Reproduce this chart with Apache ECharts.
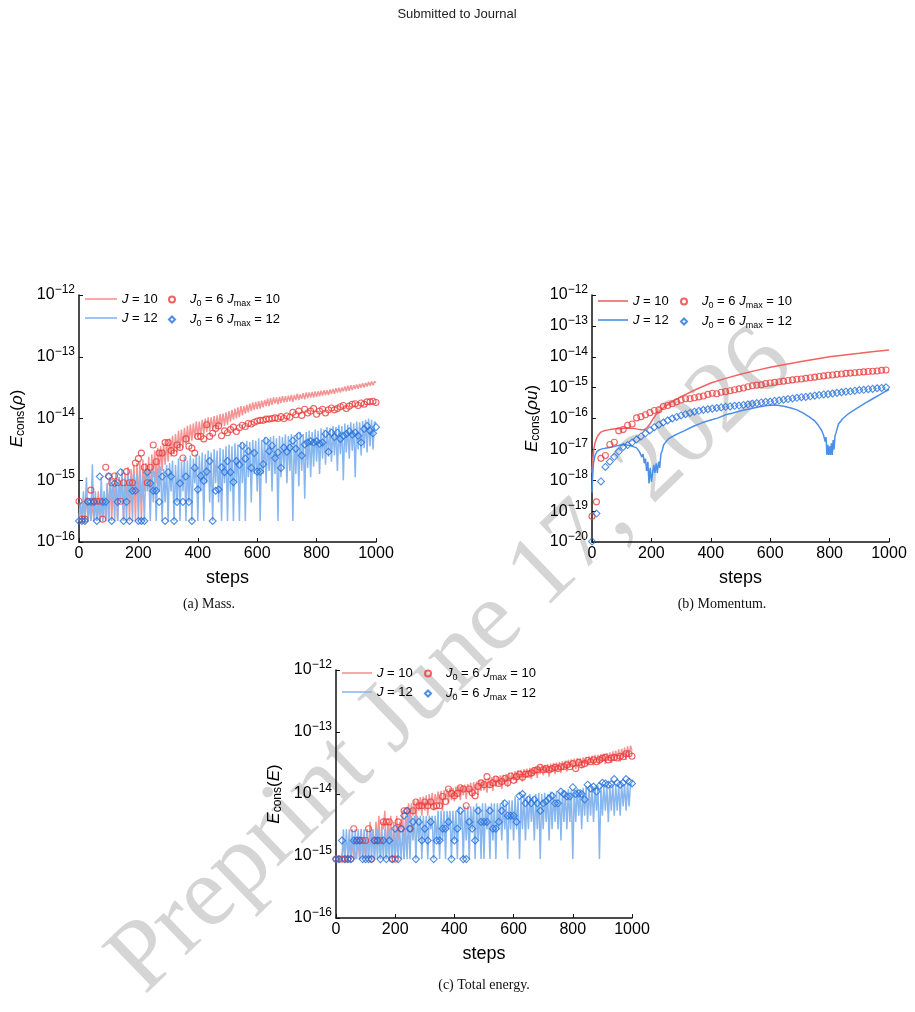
<!DOCTYPE html>
<html>
<head>
<meta charset="utf-8">
<script src="https://cdn.jsdelivr.net/npm/echarts@6/dist/echarts.min.js"></script>
<style>
  html, body { margin: 0; padding: 0; background: #fff; }
  #main { width: 915px; height: 1012px; }
</style>
</head>
<body>
<div id="main"></div>
<script>
// all values are log10 of the conservation error

// x positions (steps)
var STEP_LINE = [];
for (var s = 0; s <= 1000; s += 5) STEP_LINE.push(s);
var STEP_MARK = [];
for (var s = 0; s <= 1000; s += 10) STEP_MARK.push(s);
var STEP_MARK_B = [];
for (var s = 0; s < 1000; s += 15) STEP_MARK_B.push(s);

// (a) mass
var A_J10 = [
-15.66,-15.36,-15.66,-15.36,-15.66,-15.18,-15.66,-15.36,-15.66,-15.36,
-15.66,-15.36,-15.66,-15.18,-15.66,-15.36,-15.66,-15.18,-15.66,-15.05,
-15.66,-14.95,-15.66,-15.05,-15.36,-14.88,-15.66,-14.95,-15.36,-14.82,
-15.66,-14.88,-15.36,-14.78,-15.66,-14.82,-15.18,-14.75,-15.66,-14.72,
-15.36,-14.70,-15.66,-14.66,-15.18,-14.72,-15.05,-14.62,-15.36,-14.58,
-14.95,-14.52,-15.05,-14.48,-14.90,-14.45,-14.85,-14.40,-14.75,-14.36,
-14.70,-14.32,-14.62,-14.28,-14.58,-14.25,-14.55,-14.20,-14.50,-14.18,
-14.48,-14.15,-14.42,-14.12,-14.40,-14.10,-14.36,-14.08,-14.32,-14.05,
-14.30,-14.05,-14.28,-14.02,-14.25,-14.00,-14.22,-13.98,-14.20,-13.98,
-14.18,-13.96,-14.18,-13.95,-14.15,-13.93,-14.12,-13.92,-14.12,-13.90,
-14.10,-13.88,-14.05,-13.86,-14.02,-13.84,-14.00,-13.82,-13.98,-13.80,
-13.95,-13.80,-13.92,-13.78,-13.90,-13.76,-13.88,-13.74,-13.86,-13.73,
-13.85,-13.72,-13.84,-13.71,-13.82,-13.70,-13.80,-13.68,-13.80,-13.67,
-13.78,-13.66,-13.76,-13.66,-13.77,-13.65,-13.75,-13.64,-13.74,-13.64,
-13.73,-13.63,-13.72,-13.62,-13.73,-13.62,-13.70,-13.60,-13.70,-13.61,
-13.68,-13.59,-13.69,-13.58,-13.67,-13.58,-13.66,-13.57,-13.66,-13.56,
-13.65,-13.56,-13.64,-13.55,-13.63,-13.54,-13.62,-13.54,-13.62,-13.53,
-13.60,-13.52,-13.60,-13.51,-13.58,-13.50,-13.58,-13.50,-13.56,-13.48,
-13.56,-13.47,-13.55,-13.46,-13.54,-13.46,-13.52,-13.45,-13.52,-13.44,
-13.50,-13.43,-13.50,-13.42,-13.48,-13.41,-13.47,-13.40,-13.46,-13.40,
-13.42];
var A_J12 = [
-15.66,-15.36,-15.66,-15.18,-15.66,-14.95,-15.66,-15.36,-15.66,-14.74,
-15.66,-15.18,-15.66,-15.36,-15.66,-14.95,-15.66,-15.18,-15.66,-15.05,
-15.66,-14.95,-15.36,-15.05,-15.66,-14.88,-15.66,-14.95,-15.36,-14.88,
-15.66,-14.95,-15.66,-14.85,-15.36,-14.95,-15.66,-14.88,-15.18,-14.90,
-15.66,-14.85,-15.36,-14.95,-15.66,-14.82,-15.18,-14.90,-15.66,-14.80,
-15.36,-14.85,-15.66,-14.80,-15.18,-14.78,-15.66,-14.82,-15.36,-14.75,
-15.66,-14.72,-15.18,-14.68,-15.66,-14.75,-15.36,-14.65,-15.66,-14.70,
-15.18,-14.62,-15.66,-14.68,-15.36,-14.60,-15.66,-14.65,-15.05,-14.58,
-15.66,-14.60,-15.18,-14.55,-15.66,-14.58,-15.05,-14.52,-15.36,-14.55,
-15.66,-14.50,-15.05,-14.52,-15.36,-14.48,-15.66,-14.50,-15.05,-14.45,
-15.66,-14.42,-15.18,-14.45,-15.66,-14.40,-15.05,-14.42,-15.66,-14.38,
-15.05,-14.40,-15.66,-14.36,-14.95,-14.38,-15.36,-14.35,-14.90,-14.36,
-15.18,-14.32,-15.66,-14.35,-14.90,-14.30,-15.05,-14.33,-14.85,-14.30,
-15.18,-14.28,-14.90,-14.32,-15.66,-14.28,-14.95,-14.30,-14.80,-14.26,
-15.05,-14.28,-14.85,-14.25,-15.66,-14.27,-14.90,-14.24,-15.10,-14.22,
-14.85,-14.25,-15.30,-14.22,-14.80,-14.20,-14.95,-14.22,-14.78,-14.18,
-14.70,-14.20,-14.90,-14.16,-14.65,-14.18,-14.75,-14.14,-14.62,-14.15,
-14.70,-14.12,-14.60,-14.14,-14.85,-14.10,-14.58,-14.12,-15.00,-14.08,
-14.55,-14.10,-14.65,-14.06,-14.52,-14.08,-14.95,-14.05,-14.50,-14.06,
-14.60,-14.04,-14.48,-14.02,-14.55,-14.00,-14.45,-14.02,-14.50,-14.05,
-14.08];
var A_M10 = [
-15.34,-15.63,-15.63,-15.34,-15.16,-15.34,-15.34,-15.34,-15.63,-14.79,
-14.93,-15.04,-14.93,-15.04,-15.34,-15.04,-14.86,-15.04,-15.04,-14.72,
-14.65,-14.56,-14.79,-15.04,-14.79,-14.43,-14.70,-14.56,-14.56,-14.39,
-14.39,-14.52,-14.56,-14.43,-14.47,-14.64,-14.33,-14.45,-14.48,-14.56,
-14.29,-14.29,-14.33,-14.10,-14.29,-14.24,-14.16,-14.12,-14.28,-14.20,
-14.23,-14.18,-14.14,-14.21,-14.15,-14.11,-14.13,-14.08,-14.09,-14.06,
-14.04,-14.03,-14.03,-14.01,-14.01,-14.00,-13.99,-14.00,-13.97,-14.00,
-13.96,-13.98,-13.90,-13.94,-13.88,-13.95,-13.85,-13.91,-13.88,-13.84,
-13.93,-13.88,-13.85,-13.91,-13.86,-13.83,-13.86,-13.84,-13.81,-13.79,
-13.84,-13.80,-13.77,-13.76,-13.79,-13.75,-13.77,-13.73,-13.73,-13.72,
-13.74];
var A_M12 = [
-15.66,-15.66,-15.66,-15.35,-15.35,-15.35,-15.66,-14.94,-15.35,-15.35,
-14.94,-15.66,-15.05,-15.35,-14.87,-15.66,-15.35,-15.66,-15.17,-15.17,
-15.66,-15.66,-15.66,-14.87,-15.05,-15.17,-15.17,-15.35,-14.94,-15.66,
-14.87,-14.94,-15.66,-15.35,-15.05,-15.35,-14.94,-15.35,-15.66,-14.80,
-15.15,-14.93,-15.01,-14.86,-14.69,-15.66,-15.17,-15.15,-14.79,-14.87,
-14.69,-14.87,-15.03,-14.69,-14.75,-14.44,-14.65,-14.53,-14.80,-14.56,
-14.86,-14.86,-14.74,-14.36,-14.53,-14.44,-14.64,-14.55,-14.80,-14.47,
-14.54,-14.47,-14.36,-14.49,-14.28,-14.60,-14.42,-14.39,-14.37,-14.39,
-14.37,-14.41,-14.39,-14.25,-14.54,-14.23,-14.30,-14.23,-14.33,-14.28,
-14.25,-14.21,-14.26,-14.23,-14.28,-14.39,-14.17,-14.12,-14.20,-14.24,
-14.14];

// (b) momentum
var B_J10_STEP = [0,3,6,10,15,20,30,40,60,80,100,120,140,160,175,185,195,205,215,230,250,275,300,350,400,450,500,550,600,650,700,750,800,850,900,950,1000];
var B_J10 = [-17.76,-17.30,-17.00,-16.80,-16.65,-16.55,-16.44,-16.40,-16.36,-16.33,-16.32,-16.31,-16.32,-16.36,-16.37,-16.30,-16.18,-16.02,-15.88,-15.74,-15.58,-15.43,-15.29,-15.06,-14.85,-14.70,-14.57,-14.45,-14.34,-14.25,-14.16,-14.08,-14.00,-13.94,-13.89,-13.83,-13.78];
var B_J12_STEP = [0,2,5,10,17,28,45,67,90,110,130,150,160,168,172,176,180,184,188,192,196,200,204,208,212,216,220,224,228,232,236,241,250,260,275,290,310,340,370,400,425,450,475,500,530,560,590,620,646,670,690,710,730,750,762,773,780,785,788,791,794,797,800,803,806,809,812,815,818,822,830,845,864,890,920,945,965,985,1000];
var B_J12 = [-18.40,-17.90,-17.45,-17.20,-17.06,-17.00,-16.96,-16.92,-16.87,-16.84,-16.88,-16.95,-17.08,-17.25,-17.15,-17.45,-17.30,-17.70,-17.40,-18.10,-17.60,-18.05,-17.76,-17.50,-17.76,-17.45,-17.76,-17.40,-17.60,-17.15,-17.05,-16.86,-16.74,-16.64,-16.56,-16.49,-16.40,-16.26,-16.14,-16.05,-15.98,-15.88,-15.82,-15.75,-15.69,-15.63,-15.58,-15.56,-15.60,-15.66,-15.72,-15.82,-15.94,-16.08,-16.22,-16.38,-16.55,-16.75,-16.60,-17.18,-16.85,-17.18,-16.90,-17.18,-16.80,-17.18,-16.70,-17.00,-16.58,-16.45,-16.18,-16.00,-15.84,-15.68,-15.50,-15.36,-15.25,-15.14,-15.06];
var B_M10 = [
-19.17,-18.70,-17.29,-17.20,-16.84,-16.77,-16.40,-16.36,-16.22,-16.18,
-15.98,-15.94,-15.88,-15.81,-15.74,-15.72,-15.61,-15.58,-15.52,-15.46,
-15.40,-15.36,-15.36,-15.33,-15.30,-15.27,-15.22,-15.18,-15.20,-15.15,
-15.13,-15.10,-15.07,-15.04,-15.01,-14.97,-14.94,-14.92,-14.91,-14.87,
-14.85,-14.83,-14.81,-14.79,-14.77,-14.75,-14.73,-14.72,-14.70,-14.68,
-14.66,-14.64,-14.62,-14.60,-14.59,-14.57,-14.56,-14.54,-14.53,-14.52,
-14.50,-14.49,-14.48,-14.47,-14.46,-14.44,-14.43];
var B_M12 = [
-19.98,-19.08,-18.04,-17.57,-17.40,-17.24,-17.07,-16.92,-16.86,-16.78,
-16.68,-16.58,-16.48,-16.38,-16.28,-16.20,-16.13,-16.06,-16.00,-15.95,
-15.90,-15.86,-15.82,-15.78,-15.75,-15.72,-15.70,-15.68,-15.66,-15.64,
-15.62,-15.61,-15.59,-15.58,-15.56,-15.54,-15.52,-15.50,-15.48,-15.46,
-15.45,-15.43,-15.41,-15.39,-15.37,-15.35,-15.33,-15.31,-15.30,-15.28,
-15.26,-15.24,-15.22,-15.21,-15.19,-15.17,-15.15,-15.13,-15.12,-15.10,
-15.08,-15.07,-15.05,-15.04,-15.02,-15.01,-14.99];

// (c) total energy
var C_J10 = [
-15.05,-15.05,-15.05,-15.05,-15.05,-14.75,-15.05,-15.05,-15.05,-14.75,
-15.05,-15.05,-14.75,-15.05,-15.05,-14.75,-15.05,-14.57,-15.05,-14.75,
-15.05,-14.57,-15.05,-14.45,-14.75,-14.57,-15.05,-14.45,-14.75,-14.35,
-15.05,-14.45,-14.57,-14.27,-15.05,-14.45,-14.75,-14.35,-15.05,-14.45,
-15.05,-14.35,-14.75,-14.45,-14.57,-14.27,-15.05,-14.35,-14.57,-14.15,
-14.45,-14.15,-14.35,-14.10,-14.45,-14.08,-14.27,-14.05,-14.35,-14.04,
-14.27,-14.02,-14.35,-14.00,-14.20,-13.98,-14.27,-14.00,-14.15,-13.96,
-14.20,-13.95,-14.27,-13.94,-14.10,-13.92,-14.15,-13.90,-14.10,-13.90,
-14.12,-13.88,-14.05,-13.87,-14.10,-13.86,-14.02,-13.85,-14.08,-13.84,
-14.00,-13.82,-14.05,-13.81,-13.98,-13.80,-14.02,-13.78,-13.95,-13.77,
-13.94,-13.75,-13.98,-13.74,-13.90,-13.73,-13.95,-13.72,-13.88,-13.71,
-13.86,-13.70,-13.92,-13.69,-13.84,-13.68,-13.88,-13.66,-13.80,-13.65,
-13.78,-13.63,-13.82,-13.62,-13.76,-13.61,-13.80,-13.60,-13.74,-13.59,
-13.72,-13.58,-13.76,-13.57,-13.70,-13.56,-13.74,-13.55,-13.68,-13.54,
-13.70,-13.53,-13.66,-13.52,-13.72,-13.51,-13.64,-13.50,-13.68,-13.49,
-13.62,-13.48,-13.66,-13.47,-13.60,-13.46,-13.64,-13.45,-13.58,-13.44,
-13.56,-13.43,-13.60,-13.42,-13.54,-13.42,-13.58,-13.41,-13.52,-13.40,
-13.55,-13.39,-13.50,-13.38,-13.54,-13.37,-13.49,-13.37,-13.52,-13.36,
-13.48,-13.35,-13.52,-13.34,-13.46,-13.33,-13.50,-13.31,-13.45,-13.30,
-13.44,-13.28,-13.48,-13.27,-13.42,-13.25,-13.45,-13.23,-13.40,-13.22,
-13.30];
var C_J12 = [
-15.05,-15.05,-15.05,-15.05,-15.05,-14.57,-15.05,-14.57,-15.05,-14.57,
-15.05,-14.57,-15.05,-14.57,-15.05,-14.57,-15.05,-14.57,-15.05,-14.57,
-15.05,-14.57,-15.05,-14.57,-15.05,-14.57,-15.05,-14.57,-15.05,-14.57,
-15.05,-14.57,-15.05,-14.57,-15.05,-14.57,-15.05,-14.57,-15.05,-14.57,
-15.05,-14.57,-15.05,-14.57,-15.05,-14.57,-15.05,-14.45,-15.05,-14.35,
-15.05,-14.35,-14.75,-14.35,-15.05,-14.35,-14.75,-14.35,-15.05,-14.35,
-14.75,-14.35,-15.05,-14.35,-14.57,-14.35,-15.05,-14.35,-14.75,-14.27,
-15.05,-14.27,-14.75,-14.27,-15.05,-14.27,-14.57,-14.27,-15.05,-14.27,
-14.75,-14.27,-15.05,-14.20,-14.57,-14.27,-15.05,-14.20,-14.75,-14.20,
-15.05,-14.20,-14.57,-14.20,-15.05,-14.15,-14.75,-14.20,-15.05,-14.15,
-15.05,-14.15,-14.57,-14.20,-15.05,-14.15,-14.75,-14.15,-15.05,-14.15,
-14.57,-14.15,-14.75,-14.10,-14.57,-14.15,-15.05,-14.10,-14.57,-14.10,
-14.75,-14.04,-14.57,-14.08,-15.05,-14.04,-14.57,-14.00,-14.75,-14.04,
-14.57,-14.00,-14.45,-14.04,-14.75,-14.00,-14.57,-13.98,-15.05,-14.00,
-14.57,-13.98,-14.45,-14.00,-14.75,-13.96,-14.57,-13.98,-14.45,-13.95,
-14.57,-13.96,-14.75,-13.94,-14.45,-13.95,-14.57,-13.92,-14.45,-13.94,
-15.05,-13.92,-14.45,-13.90,-14.35,-13.92,-14.57,-13.90,-14.35,-13.88,
-14.45,-13.90,-14.35,-13.88,-14.45,-13.88,-14.27,-13.86,-15.05,-13.88,
-14.35,-13.86,-14.27,-13.85,-14.45,-13.86,-14.27,-13.84,-14.35,-13.85,
-14.27,-13.84,-14.35,-13.83,-14.20,-13.84,-14.27,-13.82,-14.20,-13.84,
-13.86];
var C_M10 = [
-15.05,-15.05,-15.05,-15.05,-15.05,-15.05,-14.56,-14.75,-14.75,-14.75,
-14.75,-14.56,-15.05,-14.75,-14.75,-14.75,-14.45,-14.45,-14.45,-15.05,
-15.05,-14.45,-14.56,-14.27,-14.27,-14.56,-14.27,-14.13,-14.19,-14.19,
-14.13,-14.19,-14.13,-14.20,-14.19,-14.19,-14.04,-14.12,-13.92,-13.99,
-14.03,-13.99,-13.90,-13.92,-14.19,-13.92,-13.98,-14.03,-13.88,-13.82,
-13.85,-13.72,-13.85,-13.82,-13.76,-13.83,-13.80,-13.75,-13.82,-13.71,
-13.78,-13.72,-13.68,-13.73,-13.68,-13.68,-13.66,-13.62,-13.61,-13.57,
-13.61,-13.59,-13.61,-13.59,-13.57,-13.59,-13.56,-13.56,-13.53,-13.56,
-13.51,-13.59,-13.49,-13.53,-13.51,-13.46,-13.48,-13.45,-13.48,-13.45,
-13.42,-13.41,-13.45,-13.42,-13.41,-13.42,-13.39,-13.40,-13.35,-13.35,
-13.39];
var C_M12 = [
-15.05,-15.05,-14.75,-15.05,-15.05,-15.05,-14.75,-14.75,-14.75,-15.05,
-15.05,-15.05,-15.05,-14.75,-14.75,-15.05,-14.75,-15.05,-14.75,-15.05,
-14.56,-15.05,-14.56,-14.35,-14.27,-14.56,-14.45,-15.05,-14.45,-14.75,
-14.56,-14.75,-14.45,-15.05,-14.75,-14.75,-14.56,-14.56,-14.45,-15.05,
-14.75,-14.56,-14.27,-15.05,-15.05,-14.45,-14.56,-14.75,-14.27,-14.45,
-14.45,-14.45,-14.27,-14.56,-14.56,-14.45,-14.27,-14.15,-14.35,-14.35,
-14.35,-14.45,-14.03,-14.00,-14.15,-14.09,-14.15,-14.09,-14.15,-14.27,
-14.15,-14.12,-14.07,-14.03,-14.15,-14.15,-13.96,-14.00,-14.04,-14.04,
-13.89,-14.00,-13.99,-14.00,-14.09,-13.85,-13.91,-13.88,-13.96,-13.87,
-13.82,-13.83,-13.85,-13.84,-13.76,-13.82,-13.85,-13.82,-13.76,-13.80,
-13.83];

// text
var Y_NAMES = ['{i|E}{s|cons}({i|ρ})', '{i|E}{s|cons}({i|ρu})', '{i|E}{s|cons}({i|E})'];
var CAPTIONS = ['(a) Mass.', '(b) Momentum.', '(c) Total energy.'];
var LEGEND_TEXT = {
  J10: '{i|J} = 10',
  J12: '{i|J} = 12',
  M10: '{i|J}{s|0} = 6 {i|J}{s|max} = 10',
  M12: '{i|J}{s|0} = 6 {i|J}{s|max} = 12'
};

var FONT = 'Liberation Sans';
var RED_LIGHT = '#f59494';
var BLUE_LIGHT = '#88b6ee';
var RED_DARK = '#f26262';
var BLUE_DARK = '#4b8fe6';
var RED_MARK = '#eb3b3b';
var BLUE_MARK = '#2470db';

var GRIDS = [
  { left: 79, top: 295, width: 297, height: 247 },
  { left: 592, top: 295, width: 297, height: 247 },
  { left: 336, top: 670, width: 296, height: 248 }
];
var Y_RANGE = [[-16, -12], [-20, -12], [-16, -12]];

function pairs(xs, ys) {
  return xs.map(function (x, i) { return [x, ys[i]]; });
}

function lineSeries(name, gi, xs, ys, color, w) {
  return {
    name: name, type: 'line', xAxisIndex: gi, yAxisIndex: gi,
    data: pairs(xs, ys), symbol: 'none', silent: true,
    lineStyle: { color: color, width: w }, itemStyle: { color: color },
    z: 2
  };
}

function markSeries(name, gi, xs, ys, symbol, size, color) {
  return {
    name: name, type: 'scatter', xAxisIndex: gi, yAxisIndex: gi,
    data: pairs(xs, ys), symbol: symbol, symbolSize: size, silent: true,
    itemStyle: { color: 'rgba(0,0,0,0)', borderColor: color, borderWidth: 1.1 },
    z: 4
  };
}

var legendRich = {
  i: { fontStyle: 'italic', fontSize: 13, lineHeight: 16, fontFamily: FONT },
  s: { fontSize: 9, lineHeight: 16, padding: [8, 0, 0, 0], fontFamily: FONT }
};

function legends(gi, lineLeft, lineW, markLeft, top) {
  var p = 'g' + gi;
  var common = {
    orient: 'vertical', top: top, itemGap: 3, selectedMode: false,
    padding: 0,
    formatter: function (n) { return LEGEND_TEXT[n.slice(2)]; }
  };
  return [
    Object.assign({}, common, {
      left: lineLeft, itemWidth: lineW, itemHeight: 1.6, icon: 'rect',
      data: [p + 'J10', p + 'J12'],
      textStyle: { fontSize: 13, lineHeight: 16, color: '#000', fontFamily: FONT, rich: legendRich }
    }),
    Object.assign({}, common, {
      left: markLeft, itemWidth: 6, itemHeight: 6,
      data: [p + 'M10', p + 'M12'],
      textStyle: { fontSize: 13, lineHeight: 16, color: '#000', fontFamily: FONT, padding: [0, 0, 0, 10], rich: legendRich }
    })
  ];
}

var xAxes = [], yAxes = [];
for (var g = 0; g < 3; g++) {
  xAxes.push({
    type: 'value', gridIndex: g, min: 0, max: 1000, interval: 200,
    name: 'steps', nameLocation: 'middle', nameGap: 27,
    nameTextStyle: { fontSize: 18, color: '#000', fontFamily: FONT },
    axisLine: { lineStyle: { color: '#111', width: 1.5 } },
    axisTick: { inside: true, length: 4, lineStyle: { color: '#111' } },
    axisLabel: { fontSize: 16, color: '#000', fontFamily: FONT, margin: 4,
      formatter: function (v) { return String(v); } },
    splitLine: { show: false }
  });
  yAxes.push({
    type: 'value', gridIndex: g, min: Y_RANGE[g][0], max: Y_RANGE[g][1], interval: 1,
    name: Y_NAMES[g], nameLocation: 'middle', nameGap: g === 1 ? 50 : 52,
    nameTextStyle: {
      fontSize: 17, lineHeight: 20, color: '#000', fontFamily: FONT,
      rich: {
        i: { fontStyle: 'italic', fontSize: 17, lineHeight: 20, fontFamily: FONT },
        s: { fontSize: 12, lineHeight: 20, padding: [8, 0, 0, 0], fontFamily: FONT }
      }
    },
    axisLine: { show: true, lineStyle: { color: '#111', width: 1.5 } },
    axisTick: { show: true, inside: true, length: 4, lineStyle: { color: '#111' } },
    axisLabel: {
      fontSize: 16, lineHeight: 18, color: '#000', fontFamily: FONT, margin: 4,
      formatter: function (v) { return '10{sup|\u2212' + Math.abs(Math.round(v)) + '}'; },
      rich: { sup: { fontSize: 12, lineHeight: 18, padding: [0, 0, 11, 0], fontFamily: FONT } }
    },
    splitLine: { show: false }
  });
}

var series = [
  lineSeries('g0J10', 0, STEP_LINE, A_J10, RED_LIGHT, 1.5),
  lineSeries('g0J12', 0, STEP_LINE, A_J12, BLUE_LIGHT, 1.5),
  markSeries('g0M10', 0, STEP_MARK, A_M10, 'circle', 6, RED_MARK),
  markSeries('g0M12', 0, STEP_MARK, A_M12, 'diamond', 7, BLUE_MARK),
  lineSeries('g1J10', 1, B_J10_STEP, B_J10, RED_DARK, 1.5),
  lineSeries('g1J12', 1, B_J12_STEP, B_J12, BLUE_DARK, 1.5),
  markSeries('g1M10', 1, STEP_MARK_B, B_M10, 'circle', 6, RED_MARK),
  markSeries('g1M12', 1, STEP_MARK_B, B_M12, 'diamond', 7, BLUE_MARK),
  lineSeries('g2J10', 2, STEP_LINE, C_J10, RED_LIGHT, 1.5),
  lineSeries('g2J12', 2, STEP_LINE, C_J12, BLUE_LIGHT, 1.5),
  markSeries('g2M10', 2, STEP_MARK, C_M10, 'circle', 6, RED_MARK),
  markSeries('g2M12', 2, STEP_MARK, C_M12, 'diamond', 7, BLUE_MARK)
];

var legendList = []
  .concat(legends(0, 85, 32, 168, 291))
  .concat(legends(1, 598, 30, 680, 293))
  .concat(legends(2, 342, 30, 424, 665));

var graphics = [
  {
    type: 'text', z: 0, x: 452, y: 662, rotation: 44 * Math.PI / 180,
    style: {
      text: 'Preprint June 17, 2026', fill: '#d5d5d5',
      font: '100px "Liberation Serif"', textAlign: 'center', textVerticalAlign: 'middle'
    }
  },
  {
    type: 'text', x: 457, y: 14,
    style: { text: 'Submitted to Journal', fill: '#222', font: '13px "Liberation Sans"', textAlign: 'center', textVerticalAlign: 'middle' }
  },
  {
    type: 'text', x: 209, y: 604,
    style: { text: CAPTIONS[0], fill: '#111', font: '14px "Liberation Serif"', textAlign: 'center', textVerticalAlign: 'middle' }
  },
  {
    type: 'text', x: 722, y: 604,
    style: { text: CAPTIONS[1], fill: '#111', font: '14px "Liberation Serif"', textAlign: 'center', textVerticalAlign: 'middle' }
  },
  {
    type: 'text', x: 484, y: 985,
    style: { text: CAPTIONS[2], fill: '#111', font: '14px "Liberation Serif"', textAlign: 'center', textVerticalAlign: 'middle' }
  }
];

var chart = echarts.init(document.getElementById('main'), null, { renderer: 'canvas' });
chart.setOption({
  animation: false,
  backgroundColor: '#fff',
  textStyle: { fontFamily: FONT },
  grid: GRIDS,
  xAxis: xAxes,
  yAxis: yAxes,
  legend: legendList,
  graphic: graphics,
  series: series
});
</script>
</body>
</html>
